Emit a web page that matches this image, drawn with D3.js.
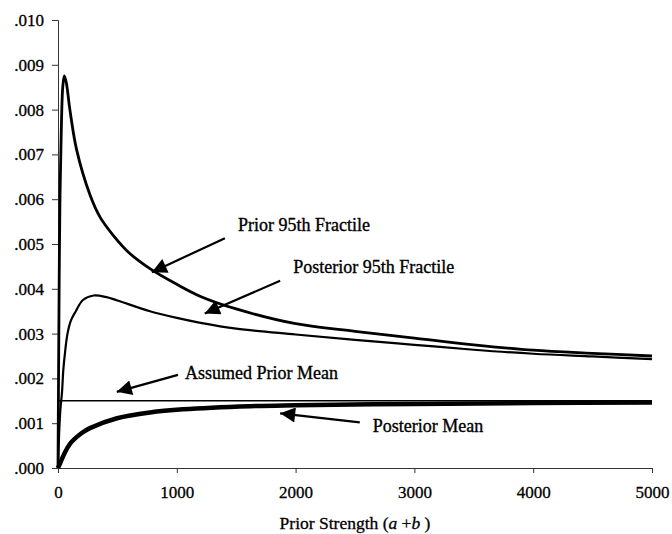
<!DOCTYPE html>
<html>
<head>
<meta charset="utf-8">
<script src="https://cdn.jsdelivr.net/npm/d3@7"></script>
<style>
  body { margin: 0; background: #fff; }
  text { font-family: "Liberation Serif", "DejaVu Serif", serif; fill: #000; }
</style>
</head>
<body>
<svg id="chart"></svg>
<script>
const width = 672, height = 534

// values
const priorStrength = [0, 5, 10, 17, 25, 31, 40, 53, 70, 100, 157, 269, 354, 463, 600, 774, 1000, 1200, 1500, 2000, 2500, 3000, 3500, 4000, 4500, 5000]
const prior95 = [0, 0.0022, 0.0042, 0.0061, 0.0072, 0.0079, 0.0085, 0.00875, 0.0086, 0.0080, 0.0071, 0.0061, 0.0056, 0.0052, 0.0048, 0.00445, 0.0041, 0.00383, 0.00355, 0.00322, 0.00305, 0.0029, 0.00275, 0.00263, 0.00256, 0.0025]

const postStrength = [0, 10, 20, 34, 45, 60, 80, 110, 150, 210, 300, 400, 500, 774, 1000, 1200, 1500, 2000, 2500, 3000, 3500, 4000, 4500, 5000]
const post95 = [0, 0.0008, 0.0013, 0.0017, 0.0022, 0.0026, 0.0030, 0.0033, 0.0035, 0.00375, 0.00385, 0.00382, 0.00374, 0.0035, 0.00335, 0.00324, 0.00311, 0.00298, 0.00286, 0.00275, 0.00264, 0.00255, 0.00249, 0.00243]

const meanStrength = [0, 17, 50, 101, 200, 269, 497, 774, 1052, 1616, 2000, 3000, 4000, 5000]
const postMean = [0, 0.0001, 0.0003, 0.00054, 0.00078, 0.00089, 0.00111, 0.00124, 0.00131, 0.00138, 0.0014, 0.00143, 0.00145, 0.00146]

const priorMeanStrength = [0, 5000]
const priorMean = [0.0015, 0.0015]

const xTicks = [0, 1000, 2000, 3000, 4000, 5000]
const yTicks = [0, 0.001, 0.002, 0.003, 0.004, 0.005, 0.006, 0.007, 0.008, 0.009, 0.010]

// label, text anchor point, arrow start, arrow tip (data units)
const notes = [
  { label: "Prior 95th Fractile", text: [1515, 0.00530], from: [1405, 0.00513], to: [790, 0.00437] },
  { label: "Posterior 95th Fractile", text: [1980, 0.00435], from: [1870, 0.00418], to: [1235, 0.00345] },
  { label: "Assumed Prior Mean", text: [1070, 0.00198], from: [1010, 0.00208], to: [495, 0.00170] },
  { label: "Posterior Mean", text: [2650, 0.00080], from: [2540, 0.00102], to: [1870, 0.00122] }
]

const svg = d3.select("#chart").attr("width", width).attr("height", height)

const x = d3.scaleLinear().domain([0, 5000]).range([58, 652])
const y = d3.scaleLinear().domain([0, 0.010]).range([468, 20])

// axes
const yAxis = svg.append("g")
  .attr("transform", `translate(${x(0)},0)`)
  .call(d3.axisLeft(y).tickValues(yTicks).tickSizeOuter(0).tickSize(6).tickPadding(8)
    .tickFormat(d => d3.format(".3f")(d).replace(/^0/, "")))
const xAxis = svg.append("g")
  .attr("transform", `translate(0,${y(0)})`)
  .call(d3.axisBottom(x).tickValues(xTicks).tickSizeOuter(0).tickSize(5).tickPadding(13)
    .tickFormat(d3.format("d")))

for (const g of [xAxis, yAxis]) {
  g.select(".domain").attr("stroke", "#333").attr("stroke-width", 1)
  g.selectAll(".tick line").attr("stroke", "#333")
  g.selectAll("text")
    .style("font-family", "Liberation Serif").style("font-size", "17px")
    .attr("fill", "#000").attr("stroke", "#000").attr("stroke-width", 0.3)
}

const title = svg.append("text")
  .attr("x", 355).attr("y", 529)
  .attr("text-anchor", "middle")
  .attr("stroke", "#000").attr("stroke-width", 0.3)
  .style("font-size", "17.5px")
title.append("tspan").text("Prior Strength (")
title.append("tspan").style("font-style", "italic").text("a")
title.append("tspan").text(" +")
title.append("tspan").style("font-style", "italic").text("b")
title.append("tspan").text(" )")

// curves
const line = d3.line()
  .x(d => x(d[0]))
  .y(d => y(d[1]))
  .curve(d3.curveCatmullRom.alpha(0.5))

const series = [
  { xs: priorMeanStrength, ys: priorMean, w: 1.6 },
  { xs: meanStrength, ys: postMean, w: 4.5 },
  { xs: postStrength, ys: post95, w: 2.2 },
  { xs: priorStrength, ys: prior95, w: 2.8 }
]

svg.append("g").selectAll("path")
  .data(series)
  .join("path")
  .attr("d", s => line(d3.zip(s.xs, s.ys)))
  .attr("fill", "none")
  .attr("stroke", "#000")
  .attr("stroke-width", s => s.w)
  .attr("stroke-linejoin", "round")

// annotations
svg.append("defs").append("marker")
  .attr("id", "head")
  .attr("viewBox", "0 0 10 10")
  .attr("refX", 10).attr("refY", 5)
  .attr("markerWidth", 19).attr("markerHeight", 15)
  .attr("markerUnits", "userSpaceOnUse")
  .attr("orient", "auto")
  .append("path")
  .attr("d", "M0,0L10,5L0,10Z")
  .attr("fill", "#000")

const ann = svg.append("g").selectAll("g").data(notes).join("g")
ann.append("line")
  .attr("x1", d => x(d.from[0])).attr("y1", d => y(d.from[1]))
  .attr("x2", d => x(d.to[0])).attr("y2", d => y(d.to[1]))
  .attr("stroke", "#000").attr("stroke-width", 2.2)
  .attr("marker-end", "url(#head)")
ann.append("text")
  .attr("x", d => x(d.text[0])).attr("y", d => y(d.text[1]))
  .attr("stroke", "#000").attr("stroke-width", 0.35)
  .style("font-size", "18px")
  .text(d => d.label)
</script>
</body>
</html>
